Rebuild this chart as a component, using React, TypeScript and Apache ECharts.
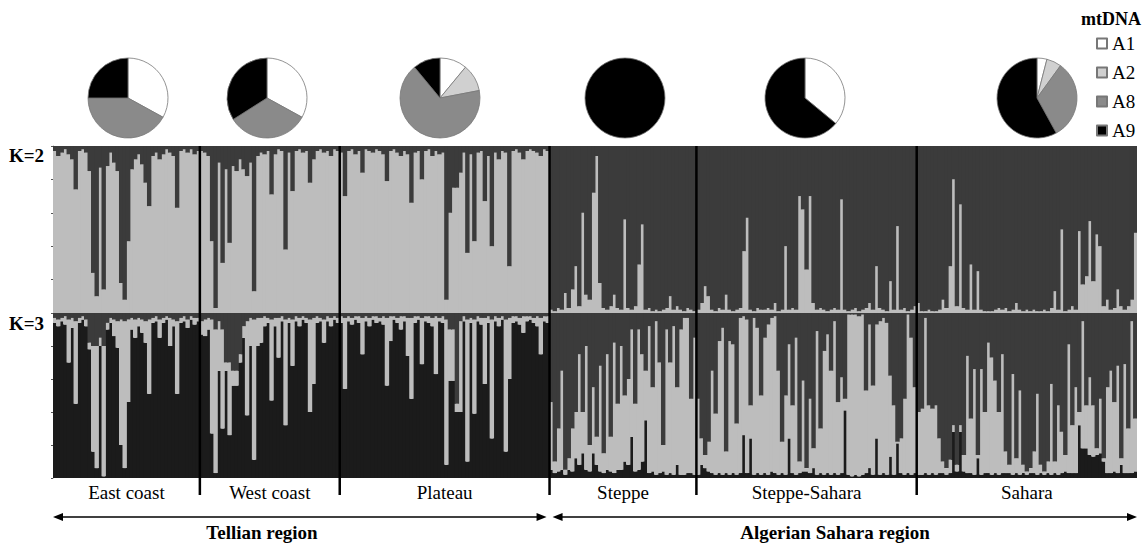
import React, { useEffect, useRef } from "react";
import * as echarts from "echarts";

// ---------------- data ----------------
const populations = ["East coast", "West coast", "Plateau", "Steppe", "Steppe-Sahara", "Sahara"];
const regionNames = ["Tellian region", "Algerian Sahara region"];
const kLabels = ["K=2", "K=3"];
const haplogroups = ["A1", "A2", "A8", "A9"];

// mtDNA haplogroup shares (%) per population
const pieA1 = [33, 33, 11, 0, 36, 4];
const pieA2 = [0, 0, 11, 0, 0, 6];
const pieA8 = [42, 33, 67, 0, 0, 32];
const pieA9 = [25, 34, 11, 100, 64, 58];

// K=2: share (%) of the light-grey cluster per individual (rest = dark grey)
const k2EastCoast = [97,94,96,98,95,92,74,97,98,96,85,24,10,87,14,88,96,90,85,18,8,43,86,92,95,89,78,64,94,96,92,95,98,96,94,63,97,98,96,98,95,97];
const k2WestCoast = [97,96,94,43,3,90,30,86,42,88,85,92,86,82,90,13,94,96,95,97,71,95,98,97,38,96,73,97,98,96,97,78,92,97,98,96,97,94,98,97];
const k2Plateau = [96,70,97,98,95,97,84,98,97,96,98,97,95,79,97,98,96,94,97,95,66,96,97,80,97,98,94,97,95,96,8,60,75,75,84,96,36,95,43,96,97,67,94,40,96,92,97,96,28,97,98,96,92,97,98,97,96,94,98,97];
const k2Steppe = [2,1,3,2,12,3,14,28,4,60,11,8,72,94,18,3,2,4,11,3,2,56,3,2,4,29,53,2,3,1,2,1,2,3,10,2,4,2,1,3,2,1];
const k2SteppeSahara = [2,6,16,10,2,1,3,2,11,2,1,2,3,37,57,2,1,3,2,2,3,2,6,1,2,40,2,3,2,70,62,26,70,6,2,3,2,1,2,3,2,68,2,1,2,3,1,2,3,6,2,28,3,2,1,19,2,52,2,3,1,2,4];
const k2Sahara = [6,1,1,2,1,1,2,8,3,28,80,4,65,3,2,29,2,25,2,1,1,1,2,3,2,3,1,2,6,2,1,2,1,2,1,1,2,1,3,13,2,50,1,2,4,2,49,17,22,55,19,47,40,4,8,2,3,14,4,2,4,8,48];

// K=3: share (%) of the dark-grey cluster (top) and black cluster (bottom); light grey = rest
const k3MidEastCoast = [3,4,3,2,4,3,5,3,2,4,18,20,20,15,20,6,3,4,5,4,5,4,3,4,3,4,5,4,3,2,4,3,2,3,4,5,3,2,4,2,3,3];
const k3BlackEastCoast = [94,92,95,93,70,91,45,94,96,92,78,16,6,80,1,90,94,86,79,20,6,46,90,85,92,88,82,51,94,95,85,94,96,80,92,51,94,95,91,96,93,95];
const k3MidWestCoast = [5,4,3,4,10,5,10,30,30,35,35,25,8,5,3,4,3,3,2,3,4,3,3,2,4,3,4,2,3,2,3,4,3,2,3,4,2,3,2,3];
const k3BlackWestCoast = [87,86,90,27,3,65,30,65,26,56,56,70,85,38,80,11,80,82,92,94,47,92,73,95,32,94,68,95,92,96,94,40,57,94,95,82,95,92,96,94];
const k3MidPlateau = [2,3,2,3,2,2,3,2,3,2,2,3,2,3,2,2,3,2,2,3,3,2,2,3,2,2,3,2,3,2,4,10,10,55,5,2,4,3,4,2,3,3,2,4,2,3,2,4,3,2,2,3,2,2,2,3,2,3,2,2];
const k3BlackPlateau = [94,54,95,93,96,94,75,95,92,96,94,95,93,56,83,96,94,90,95,74,48,94,96,69,95,94,92,63,95,94,8,59,59,40,40,95,10,94,39,95,93,57,94,24,95,92,96,16,60,94,95,93,88,95,96,94,92,75,95,94];
const k3MidSteppe = [54,90,70,35,95,88,70,60,25,60,20,80,45,75,32,85,25,75,18,55,20,50,40,10,55,10,25,35,8,45,5,30,80,10,30,8,45,10,3,3,52,15];
const k3BlackSteppe = [5,3,4,5,2,5,4,12,8,15,5,4,15,8,4,3,5,4,3,5,5,10,8,25,4,5,10,35,3,4,2,3,4,2,3,2,8,2,2,3,3,2];
const k3MidSteppeSahara = [52,76,86,78,35,61,17,9,84,17,19,67,3,2,4,56,3,9,50,15,7,3,2,35,78,50,19,56,15,90,41,94,52,82,11,70,23,13,35,5,54,39,52,1,1,1,2,1,47,7,44,7,5,3,6,38,56,78,76,52,1,15,45];
const k3BlackSteppeSahara = [2,8,6,4,3,2,3,2,3,2,3,2,3,26,3,24,2,3,2,3,2,4,3,2,3,2,24,3,2,3,4,4,3,6,2,3,2,3,2,3,2,3,41,2,1,2,1,2,3,6,2,24,2,3,2,13,2,21,3,2,3,2,3];
const k3MidSahara = [60,58,3,56,58,56,76,90,94,89,68,92,68,86,26,64,34,86,34,60,18,27,41,60,25,84,92,37,88,47,92,96,94,84,49,92,96,90,43,90,56,72,86,19,68,45,60,5,56,39,56,82,52,88,45,35,54,32,88,31,70,5,64];
const k3BlackSahara = [2,2,3,2,3,2,3,3,2,3,28,4,28,4,3,3,2,12,2,3,3,2,3,2,3,3,3,2,3,2,3,2,3,3,2,3,2,3,2,3,2,3,4,3,3,3,32,18,18,14,13,14,15,10,3,3,4,3,8,3,3,3,4];

// ---------------- style ----------------
const LIGHT = "#bdbdbd";
const DARK = "#3b3b3b";
const BLACK = "#1b1b1b";
const hapColors = ["#ffffff", "#d0d0d0", "#8a8a8a", "#000000"];
const SERIF = "'Liberation Serif', 'Times New Roman', serif";
const PLOT_W = 1084;

export default function App() {
  const ref = useRef<HTMLDivElement>(null);

  useEffect(() => {
    const chart = echarts.init(ref.current as HTMLDivElement, null, { renderer: "svg" });

    const k2Groups = [k2EastCoast, k2WestCoast, k2Plateau, k2Steppe, k2SteppeSahara, k2Sahara];
    const k3MidGroups = [k3MidEastCoast, k3MidWestCoast, k3MidPlateau, k3MidSteppe, k3MidSteppeSahara, k3MidSahara];
    const k3BlackGroups = [k3BlackEastCoast, k3BlackWestCoast, k3BlackPlateau, k3BlackSteppe, k3BlackSteppeSahara, k3BlackSahara];

    const ids: string[] = [];
    k2Groups.forEach((g, p) => g.forEach((_, i) => ids.push(populations[p] + " " + (i + 1))));
    const k2Light = k2Groups.flat();
    const k2Dark = k2Light.map((v) => 100 - v);
    const k3Mid = k3MidGroups.flat();
    const k3Black = k3BlackGroups.flat();
    const k3Light = k3Mid.map((m, i) => Math.max(0, 100 - m - k3Black[i]));
    const counts = k2Groups.map((g) => g.length);
    // slightly wider than a category band so neighbouring bars overlap and leave no seams
    const barW = PLOT_W / ids.length + 0.9;

    const pieCentersX = [128, 267, 440, 625, 805, 1037];
    const pieCols = [pieA1, pieA2, pieA8, pieA9];
    const pies = populations.map((pop, p) => ({
      type: "pie",
      name: pop,
      center: [pieCentersX[p], 98],
      radius: 40,
      startAngle: 90,
      clockwise: true,
      silent: true,
      label: { show: false },
      labelLine: { show: false },
      itemStyle: { borderColor: "#777", borderWidth: 0.8 },
      data: haplogroups
        .map((h, j) => ({ name: h, value: pieCols[j][p], itemStyle: { color: hapColors[j] } }))
        .filter((d) => d.value > 0),
    }));

    const bar = (name: string, data: number[], color: string, idx: number, stack: string) => ({
      type: "bar",
      name,
      data,
      stack,
      xAxisIndex: idx,
      yAxisIndex: idx,
      barWidth: barW,
      barGap: "-100%",
      silent: true,
      itemStyle: { color, borderWidth: 0 },
    });

    const xAx = (g: number) => ({
      type: "category",
      gridIndex: g,
      data: ids,
      boundaryGap: true,
      axisLine: { show: false },
      axisTick: { show: false },
      axisLabel: { show: false },
      splitLine: { show: false },
    });
    const yAx = (g: number) => ({
      type: "value",
      gridIndex: g,
      min: 0,
      max: 100,
      interval: 20,
      axisLabel: { show: false },
      splitLine: { show: false },
      axisLine: { show: true, lineStyle: { color: "#9a9a9a", width: 1 } },
      axisTick: { show: true, length: 2, lineStyle: { color: "#555" } },
    });

    chart.setOption({
      animation: false,
      backgroundColor: "#ffffff",
      title: {
        text: "mtDNA",
        right: 2,
        top: 5,
        textStyle: { fontFamily: SERIF, fontSize: 18, fontWeight: "bold", color: "#000" },
      },
      legend: {
        data: haplogroups,
        orient: "vertical",
        left: 1091,
        top: 29,
        itemWidth: 10,
        itemHeight: 10,
        itemGap: 10,
        icon: "rect",
        selectedMode: false,
        textStyle: { fontFamily: SERIF, fontSize: 19, color: "#000" },
      },
      grid: [
        { left: 53, top: 146, width: PLOT_W, height: 167 },
        { left: 53, top: 313, width: PLOT_W, height: 165 },
      ],
      xAxis: [xAx(0), xAx(1)],
      yAxis: [yAx(0), yAx(1)],
      series: [
        bar("K2 light", k2Light, LIGHT, 0, "k2"),
        bar("K2 dark", k2Dark, DARK, 0, "k2"),
        bar("K3 black", k3Black, BLACK, 1, "k3"),
        bar("K3 light", k3Light, LIGHT, 1, "k3"),
        bar("K3 dark", k3Mid, DARK, 1, "k3"),
        ...pies,
      ],
    } as any);

    // boundaries between populations, through the category axis
    const px = (i: number) => chart.convertToPixel({ xAxisIndex: 0 } as any, ids[i]) as number;
    const band = px(1) - px(0);
    const boundary = (b: number) => (b === 0 ? px(0) - band / 2 : px(b - 1) + band / 2);
    const cum: number[] = [0];
    counts.forEach((c) => cum.push(cum[cum.length - 1] + c));

    const g: any[] = [];
    for (let b = 1; b < populations.length; b++) {
      const x = boundary(cum[b]);
      g.push({ type: "line", shape: { x1: x, y1: 146, x2: x, y2: 495 }, style: { stroke: "#000", lineWidth: 2.5 }, z: 100 });
    }
    populations.forEach((pop, p) => {
      const cx = (boundary(cum[p]) + boundary(cum[p + 1])) / 2;
      g.push({
        type: "text",
        style: { text: pop, x: cx, y: 492, align: "center", verticalAlign: "middle", fontFamily: SERIF, fontSize: 19, fill: "#000" },
      });
    });
    kLabels.forEach((k, i) => {
      g.push({
        type: "text",
        style: { text: k, x: 9, y: i === 0 ? 155 : 323, align: "left", verticalAlign: "middle", fontFamily: SERIF, fontSize: 19, fontWeight: "bold", fill: "#000" },
      });
    });
    const arrowY = 517;
    const arrow = (x1: number, x2: number) => {
      g.push({ type: "line", shape: { x1: x1 + 5, y1: arrowY, x2: x2 - 5, y2: arrowY }, style: { stroke: "#000", lineWidth: 1.5 } });
      g.push({ type: "polygon", shape: { points: [[x1, arrowY], [x1 + 10, arrowY - 4], [x1 + 10, arrowY + 4]] }, style: { fill: "#000" } });
      g.push({ type: "polygon", shape: { points: [[x2, arrowY], [x2 - 10, arrowY - 4], [x2 - 10, arrowY + 4]] }, style: { fill: "#000" } });
    };
    const mid = boundary(cum[3]);
    arrow(boundary(0), mid - 3);
    arrow(mid + 3, boundary(cum[6]));
    const regionX = [262, 835];
    regionNames.forEach((r, i) => {
      g.push({
        type: "text",
        style: { text: r, x: regionX[i], y: 532, align: "center", verticalAlign: "middle", fontFamily: SERIF, fontSize: 19, fontWeight: "bold", fill: "#000" },
      });
    });

    chart.setOption({ graphic: g } as any);

    return () => chart.dispose();
  }, []);

  return <div ref={ref} style={{ position: "fixed", left: 0, top: 0, width: 1148, height: 546 }} />;
}
